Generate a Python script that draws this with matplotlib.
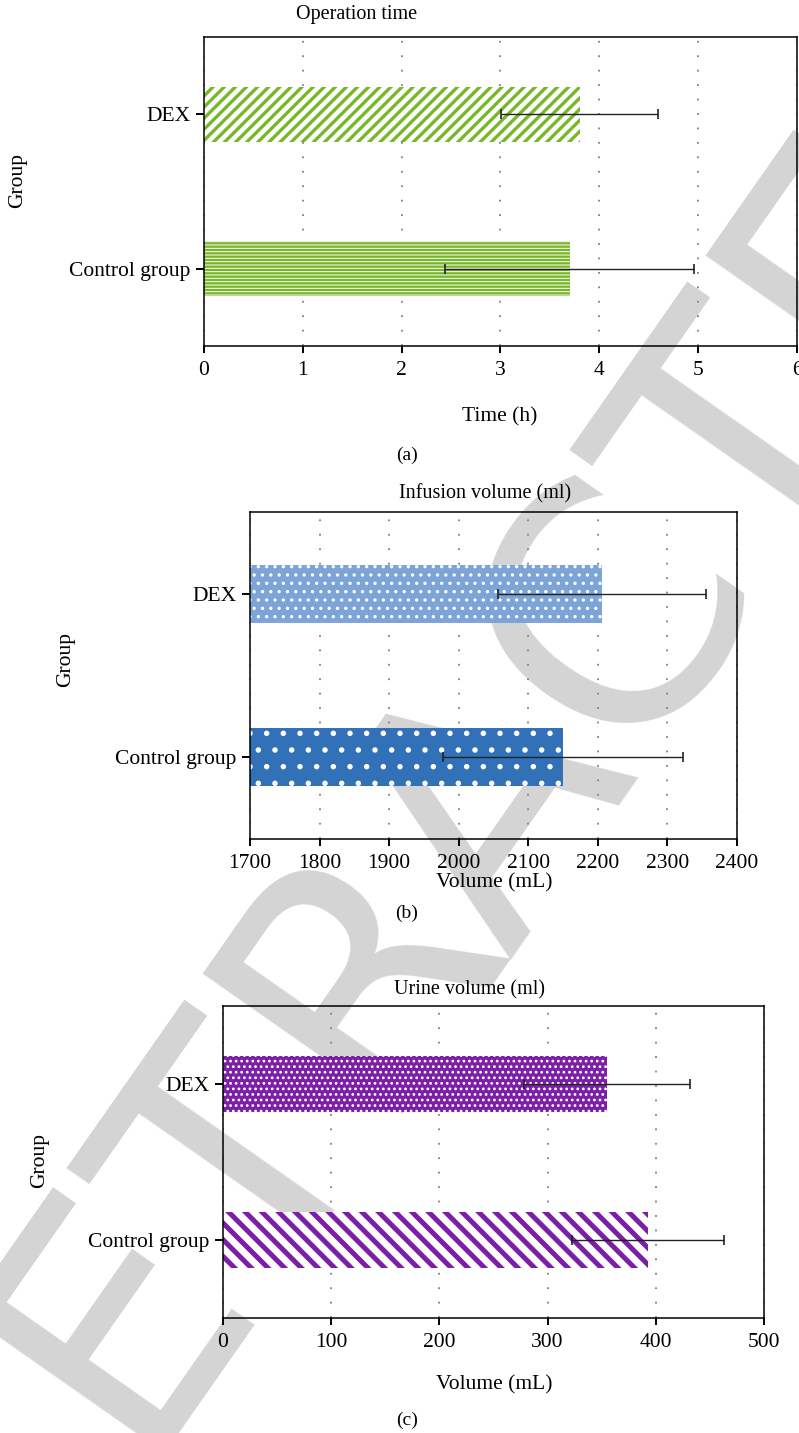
import numpy as np
import matplotlib
matplotlib.use("Agg")
import matplotlib.pyplot as plt

# ── data ───────────────────────────────────────────────────────
groups = ["Control group", "DEX"]

time_vals = [3.70, 3.80]
time_err  = [1.26, 0.79]

infusion_vals = [2150, 2206]
infusion_err  = [172, 149]

urine_vals = [393, 355]
urine_err  = [70, 77]

W, H = 799, 1433
plt.rcParams["font.family"] = ["Liberation Serif", "DejaVu Serif"]
plt.rcParams["hatch.linewidth"] = 2.0

fig = plt.figure(figsize=(W / 100, H / 100), dpi=100)
fig.patch.set_facecolor("white")

# watermark behind everything
fig.text(0.62, 0.46, "RETRACTED", rotation=55, fontsize=240, color="#d4d4d4",
         ha="center", va="center", family="DejaVu Sans", fontweight="normal", zorder=-5)


def rect(l, t, r, b):
    return [l / W, 1 - b / H, (r - l) / W, (b - t) / H]


def hbar(ax, y, val, face, hatch_col, hatch, hlw):
    b = ax.barh([y], [val], height=0.355, color=face, linewidth=0, zorder=2)
    h = ax.barh([y], [val], height=0.355, color="none", edgecolor=hatch_col,
                hatch=hatch, linewidth=0, zorder=2)
    for p in h.patches:
        if hasattr(p, "set_hatch_linewidth"):
            p.set_hatch_linewidth(hlw)
    return b


def style(ax, xlim, xticks):
    ax.set_facecolor("none")
    ax.set_xlim(*xlim)
    ax.set_ylim(-0.5, 1.5)
    ax.set_xticks(xticks)
    ax.set_yticks([0, 1])
    ax.set_yticklabels(groups)
    ax.tick_params(axis="x", direction="out", length=5, width=1.4, labelsize=15.5, pad=6)
    ax.tick_params(axis="y", direction="out", length=6, width=1.4, labelsize=15.5, pad=4)
    for sp in ax.spines.values():
        sp.set_linewidth(1.1)
        sp.set_color("black")
    ax.set_axisbelow(True)
    ax.xaxis.grid(True, color="#808080", linestyle=(0, (1, 7)), linewidth=1.3)


def errs(ax, vals, err):
    ax.errorbar(vals, [0, 1], xerr=err, fmt="none", ecolor="#222222",
                elinewidth=1.0, capsize=3.8, capthick=1.2, zorder=4)


# ── (a) operation time ─────────────────────────────────────────
ax = fig.add_axes(rect(204, 37, 797, 346))
green = "#78b72a"
hbar(ax, 0, time_vals[0], green, "white", "-----", 0.7)
hbar(ax, 1, time_vals[1], "white", green, "///", 2.4)
errs(ax, time_vals, time_err)
style(ax, (0, 6), range(0, 7))
fig.text(357 / W, 1 - 14 / H, "Operation time", ha="center", va="center", fontsize=14.5)
fig.text(500 / W, 1 - 417 / H, "Time (h)", ha="center", va="center", fontsize=15.5)
fig.text(18 / W, 1 - 180 / H, "Group", ha="center", va="center", fontsize=15.5, rotation=90)
fig.text(407 / W, 1 - 455 / H, "(a)", ha="center", va="center", fontsize=14)

# ── (b) infusion volume ────────────────────────────────────────
ax = fig.add_axes(rect(250, 512, 737, 839))
blue = "#3270b8"
hbar(ax, 0, infusion_vals[0], blue, "white", ".", 1.5)
hbar(ax, 1, infusion_vals[1], "#7da4d6", "white", "..", 1.2)
errs(ax, infusion_vals, infusion_err)
style(ax, (1700, 2400), range(1700, 2401, 100))
fig.text(485 / W, 1 - 494 / H, "Infusion volume (ml)", ha="center", va="center", fontsize=14.5)
fig.text(494 / W, 1 - 883 / H, "Volume (mL)", ha="center", va="center", fontsize=15.5)
fig.text(66 / W, 1 - 660 / H, "Group", ha="center", va="center", fontsize=15.5, rotation=90)
fig.text(407 / W, 1 - 913 / H, "(b)", ha="center", va="center", fontsize=14)

# ── (c) urine volume ───────────────────────────────────────────
ax = fig.add_axes(rect(223, 1006, 764, 1318))
purple = "#7a1fa6"
hbar(ax, 0, urine_vals[0], "white", purple, "\\\\", 3.6)
hbar(ax, 1, urine_vals[1], purple, "white", "...", 1.2)
errs(ax, urine_vals, urine_err)
style(ax, (0, 500), range(0, 501, 100))
fig.text(470 / W, 1 - 990 / H, "Urine volume (ml)", ha="center", va="center", fontsize=14.5)
fig.text(494 / W, 1 - 1385 / H, "Volume (mL)", ha="center", va="center", fontsize=15.5)
fig.text(40 / W, 1 - 1160 / H, "Group", ha="center", va="center", fontsize=15.5, rotation=90)
fig.text(407 / W, 1 - 1420 / H, "(c)", ha="center", va="center", fontsize=14)

fig.savefig("out.png", dpi=100)
